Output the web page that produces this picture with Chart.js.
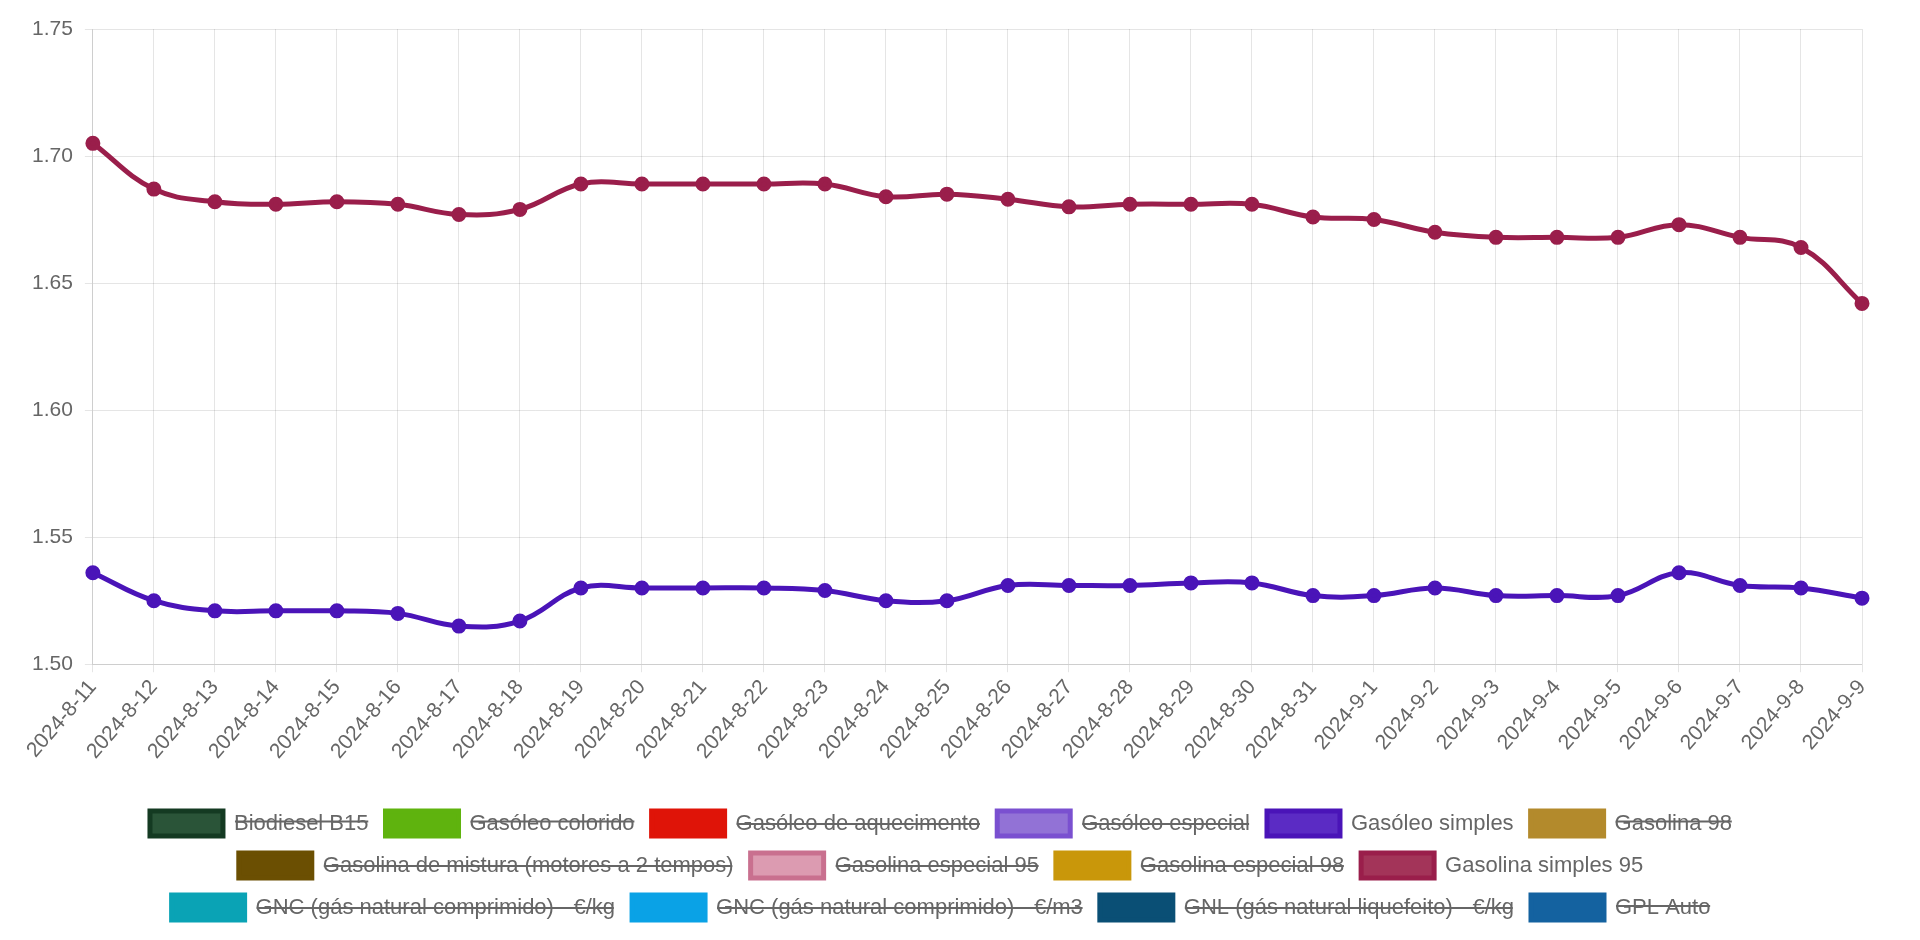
<!DOCTYPE html>
<html>
<head>
<meta charset="utf-8">
<title>Preços combustíveis</title>
<script src="https://cdn.jsdelivr.net/npm/chart.js@4.4.0/dist/chart.umd.min.js"></script>
<style>
	body { margin: 0; background: #fff; }
	#wrap { width: 1920px; height: 940px; }
</style>
</head>
<body>
<div id="wrap"><canvas id="precos"></canvas></div>
<script>
var dias = [
	"2024-8-11", "2024-8-12", "2024-8-13", "2024-8-14", "2024-8-15", "2024-8-16",
	"2024-8-17", "2024-8-18", "2024-8-19", "2024-8-20", "2024-8-21", "2024-8-22",
	"2024-8-23", "2024-8-24", "2024-8-25", "2024-8-26", "2024-8-27", "2024-8-28",
	"2024-8-29", "2024-8-30", "2024-8-31", "2024-9-1", "2024-9-2", "2024-9-3",
	"2024-9-4", "2024-9-5", "2024-9-6", "2024-9-7", "2024-9-8", "2024-9-9"
];
var gasoleoSimples = [
	1.536, 1.525, 1.521, 1.521, 1.521, 1.520, 1.515, 1.517, 1.530, 1.530,
	1.530, 1.530, 1.529, 1.525, 1.525, 1.531, 1.531, 1.531, 1.532, 1.532,
	1.527, 1.527, 1.530, 1.527, 1.527, 1.527, 1.536, 1.531, 1.530, 1.526
];
var gasolinaSimples95 = [
	1.705, 1.687, 1.682, 1.681, 1.682, 1.681, 1.677, 1.679, 1.689, 1.689,
	1.689, 1.689, 1.689, 1.684, 1.685, 1.683, 1.680, 1.681, 1.681, 1.681,
	1.676, 1.675, 1.670, 1.668, 1.668, 1.668, 1.673, 1.668, 1.664, 1.642
];
var yTicks = [1.50, 1.55, 1.60, 1.65, 1.70, 1.75];

// combustiveis: nome, fundo, borda, serie (null = escondido)
var combustiveis = [
	["Biodiesel B15", "#2a5438", "#143a22", null],
	["Gasóleo colorido", "#5fb30e", "#5fb30e", null],
	["Gasóleo de aquecimento", "#df1408", "#df1408", null],
	["Gasóleo especial", "#9272d6", "#7a50d0", null],
	["Gasóleo simples", "#5b2bc4", "#4a14b8", gasoleoSimples],
	["Gasolina 98", "#b38a2c", "#b38a2c", null],
	["Gasolina de mistura (motores a 2 tempos)", "#6b4f02", "#6b4f02", null],
	["Gasolina especial 95", "#dc9bb1", "#c9708f", null],
	["Gasolina especial 98", "#c9970a", "#c9970a", null],
	["Gasolina simples 95", "#a33459", "#9a1e4b", gasolinaSimples95],
	["GNC (gás natural comprimido) - €/kg", "#0aa3b5", "#0aa3b5", null],
	["GNC (gás natural comprimido) - €/m3", "#0aa2e6", "#0aa2e6", null],
	["GNL (gás natural liquefeito) - €/kg", "#0a4f75", "#0a4f75", null],
	["GPL Auto", "#1462a0", "#1462a0", null]
];

var datasets = [];
combustiveis.forEach(function(c){
	datasets.push({
		label: c[0],
		data: c[3] || [],
		hidden: c[3] === null,
		backgroundColor: c[1],
		borderColor: c[2],
		pointBackgroundColor: c[2],
		pointBorderColor: c[2],
		borderWidth: 5,
		pointRadius: 5,
		tension: 0.4,
		fill: false
	});
});

Chart.defaults.font.family = "Arial, 'Liberation Sans', sans-serif";
Chart.defaults.color = "#666";

new Chart(document.getElementById('precos'), {
	type: 'line',
	data: {
		labels: dias,
		datasets: datasets
	},
	options: {
		responsive: true,
		maintainAspectRatio: false,
		animation: false,
		layout: {
			padding: { top: 29, right: 58, left: 20, bottom: 10 }
		},
		plugins: {
			legend: {
				position: 'bottom',
				labels: {
					boxWidth: 73,
					boxHeight: 25,
					padding: 17,
					font: { size: 22 }
				}
			},
			tooltip: { enabled: false }
		},
		scales: {
			x: {
				ticks: {
					font: { size: 21 },
					minRotation: 49,
					maxRotation: 49
				},
				afterFit: function(scale){
					// espaco extra entre as datas e a legenda
					scale.height += 27;
				}
			},
			y: {
				min: yTicks[0],
				max: yTicks[yTicks.length - 1],
				afterBuildTicks: function(axis){
					axis.ticks = yTicks.map(function(v){ return { value: v }; });
				},
				ticks: {
					font: { size: 21 },
					padding: 12,
					callback: function(v){ return v.toFixed(2); }
				}
			}
		}
	}
});
</script>
</body>
</html>
